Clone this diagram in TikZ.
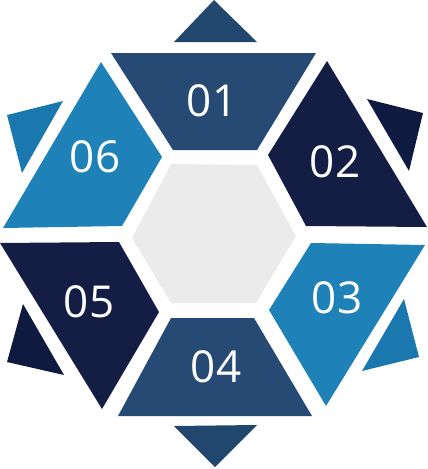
\documentclass[tikz,border=0pt]{standalone}
\usepackage{fontspec}
\setmainfont{Open Sans}
\definecolor{midblue}{HTML}{264A74}
\definecolor{midblueS}{HTML}{22476F}
\definecolor{darkblue}{HTML}{141E45}
\definecolor{darkblueS}{HTML}{0F1A40}
\definecolor{lightblue}{HTML}{1E82B8}
\definecolor{lightblueS}{HTML}{1A78AE}
\definecolor{hexgray}{HTML}{EBEBEB}
\tikzset{
  lbl/.style={text=white, font=\fontsize{44}{44}\selectfont, inner sep=0pt},
}
\begin{document}
\begin{tikzpicture}[x=1pt,y=-1pt]
\useasboundingbox (0,0) rectangle (428,469);
% centre hexagon
\fill[hexgray] (171,164) -- (257,165) -- (296,236) -- (256,303) -- (171,303) -- (132,238) -- cycle;
% 01
\fill[midblue] (111,53) -- (316,53) -- (257,150) -- (173,150) -- cycle;
\fill[midblueS] (214,0) -- (257,42) -- (174,42) -- cycle;
% 02
\fill[darkblue] (327,61) -- (427,227) -- (306,226) -- (268,155) -- cycle;
\fill[darkblueS] (367,99) -- (423,113) -- (409,171) -- cycle;
% 03
\fill[lightblue] (311,243) -- (425,245) -- (326,406) -- (269,310) -- cycle;
\fill[lightblueS] (404,299) -- (419,357) -- (362,371) -- cycle;
% 04
\fill[midblue] (171,318) -- (254,318) -- (312,416) -- (118,416) -- cycle;
\fill[midblueS] (174,426) -- (257,425) -- (215,467) -- cycle;
% 05
\fill[darkblue] (0,243) -- (119,242) -- (159,312) -- (102,409) -- cycle;
\fill[darkblueS] (23,304) -- (64,375) -- (7,362) -- cycle;
% 06
\fill[lightblue] (101,62) -- (162,157) -- (122,226) -- (3,228) -- cycle;
\fill[lightblueS] (7,115) -- (63,101) -- (22,173) -- cycle;
% labels
\node[lbl] (t1) at (212,101) {01};
\node[lbl] (t2) at (335,162) {02};
\node[lbl] (t3) at (337,298) {03};
\node[lbl] (t4) at (216,367) {04};
\node[lbl] (t5) at (89,302) {05};
\node[lbl] (t6) at (95,157) {06};
\end{tikzpicture}
\end{document}
